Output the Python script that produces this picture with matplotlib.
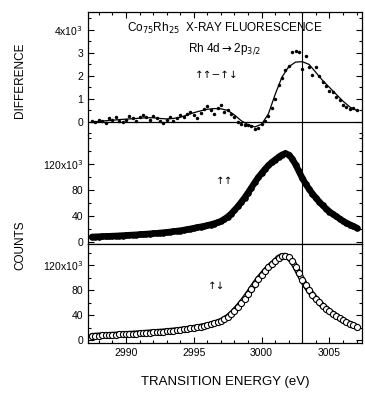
import numpy as np
import matplotlib
matplotlib.use("Agg")
import matplotlib.pyplot as plt
from matplotlib.ticker import MultipleLocator, FixedLocator, FixedFormatter

plt.rcParams['font.family'] = ['Liberation Sans', 'DejaVu Sans']

# ---- data ----
e_start, e_step = 2987.5, 0.25
counts_upup = [8.0, 8.2, 8.4, 8.6, 8.8, 9.0, 9.3, 9.5, 9.8, 10.1,
               10.4, 10.7, 11.0, 11.3, 11.7, 12.0, 12.4, 12.8, 13.2, 13.6,
               14.1, 14.6, 15.1, 15.7, 16.3, 17.0, 17.7, 18.5, 19.4, 20.4,
               21.5, 22.5, 23.5, 24.5, 25.7, 27.0, 28.5, 30.2, 32.2,
               35.3, 39.0, 43.5, 49.0, 55.0, 61.5, 68.5, 76.0,
               84.0, 92.0, 99.5, 106.0, 112.5, 118.0, 123.0, 127.0,
               131.0, 134.5, 136.5, 134.5,
               128.5, 119.5, 109.0, 98.5, 89.5, 81.5, 74.5, 68.0, 62.0, 56.5,
               51.5, 47.0, 43.0, 39.5, 36.0, 32.5, 29.5, 27.0, 24.5, 22.0]
counts_updown = [6.5, 6.8, 7.1, 7.4, 7.7, 8.0, 8.3, 8.6, 8.9, 9.2,
                 9.5, 9.8, 10.1, 10.4, 10.8, 11.2, 11.6, 12.0, 12.4, 12.8,
                 13.2, 13.6, 14.1, 14.6, 15.1, 15.7, 16.3, 17.0, 17.7, 18.5,
                 19.4, 20.3, 21.3, 22.4, 23.6, 25.0, 26.6, 28.4, 30.4,
                 33.4, 37.0, 41.5, 47.0, 53.0, 59.5, 66.5, 74.0,
                 82.0, 90.0, 97.5, 104.0, 110.5, 116.5, 121.5, 126.0,
                 132.0, 134.5, 135.0, 132.5,
                 126.5, 117.5, 107.0, 96.5, 87.5, 79.5, 72.5, 66.0, 60.5, 55.0,
                 50.5, 46.0, 42.0, 38.5, 35.0, 31.5, 28.5, 26.0, 23.5, 21.0]
diff_points = [0.05, 0.0, 0.1, 0.05, -0.05, 0.15, 0.1, 0.2, 0.05, 0.0,
               0.1, 0.25, 0.15, 0.05, 0.2, 0.3, 0.2, 0.1, 0.25, 0.15,
               0.05, -0.05, 0.1, 0.2, 0.05, 0.15, 0.3, 0.2, 0.35, 0.45,
               0.3, 0.15, 0.4, 0.55, 0.7, 0.5, 0.35, 0.6, 0.75, 0.45,
               0.5, 0.35, 0.2, 0.0, -0.1, -0.15,
               -0.15, -0.2, -0.3, -0.25, -0.1, 0.05, 0.25, 0.6, 1.0,
               1.6, 1.9, 2.25, 2.45, 3.05, 3.1, 3.05, 2.3, 2.85,
               2.4, 2.05, 2.4, 2.0, 1.75, 1.55, 1.35, 1.3, 1.1,
               0.95, 0.75, 0.65, 0.55, 0.6, 0.5]
fit_step = 0.5
diff_fit = [0.0, 0.02, 0.05, 0.07, 0.1,
            0.12, 0.14, 0.16, 0.18, 0.18, 0.15, 0.13, 0.15, 0.2, 0.3,
            0.4, 0.48, 0.55, 0.58, 0.57, 0.5,
            0.3, 0.05, -0.12, -0.22, -0.1, 0.35, 1.2, 1.95, 2.4, 2.6,
            2.62, 2.5, 2.15, 1.8, 1.5, 1.2, 0.9, 0.65, 0.5]
marker_energy = 3003.0

E = e_start + e_step * np.arange(len(counts_upup))
E2 = e_start + e_step * np.arange(len(counts_updown))
Ed = e_start + e_step * np.arange(len(diff_points))
Ef = e_start + fit_step * np.arange(len(diff_fit))

# ---- figure ----
W, H = 365, 393
fig = plt.figure(figsize=(W / 100, H / 100), dpi=100)
L, R = 88 / W, 362 / W
def band(top, bot):
    return [L, 1 - bot / H, R - L, (bot - top) / H]

ax1 = fig.add_axes(band(12, 135))
ax2 = fig.add_axes(band(135, 244))
ax3 = fig.add_axes(band(244, 343))

xlim = (2987.2, 3007.4)
fs = 7.5
for ax in (ax1, ax2, ax3):
    ax.set_xlim(*xlim)
    ax.xaxis.set_major_locator(MultipleLocator(5))
    ax.xaxis.set_minor_locator(MultipleLocator(1))
    ax.tick_params(which='both', direction='in', top=False, bottom=False,
                   left=True, right=True, labelsize=fs, width=0.8)
    ax.tick_params(which='major', length=4)
    ax.tick_params(which='minor', length=2)
    for s in ax.spines.values():
        s.set_linewidth(0.9)
    ax.axvline(marker_energy, color='k', lw=0.8)

# top panel
ax1.set_ylim(-0.57, 4.78)
ax1.spines['bottom'].set_visible(False)
ax1.tick_params(axis='x', which='both', top=True, labeltop=False, labelbottom=False)
ax1.yaxis.set_major_locator(FixedLocator([0, 1, 2, 3, 4]))
ax1.yaxis.set_major_formatter(FixedFormatter(['0', '1', '2', '3', '4x10$^3$']))
ax1.yaxis.set_minor_locator(MultipleLocator(0.5))
ax1.axhline(0, color='k', lw=0.9)
ax1.plot(Ef, diff_fit, color='k', lw=0.9)
ax1.plot(Ed, diff_points, 'o', color='k', ms=2.5, mew=0)
ax1.text(0.5, 0.87, 'Co$_{75}$Rh$_{25}$  X-RAY FLUORESCENCE', transform=ax1.transAxes,
         ha='center', va='center', fontsize=8.5)
ax1.text(0.5, 0.70, 'Rh 4d$\\rightarrow$2p$_{3/2}$', transform=ax1.transAxes,
         ha='center', va='center', fontsize=8.5)
ax1.text(0.47, 0.49, '↑↑−↑↓', transform=ax1.transAxes,
         ha='center', va='center', fontsize=7.5, family=['DejaVu Sans'])

# middle panel
ax2.set_ylim(-3, 165)
ax2.spines['top'].set_visible(False)
ax2.tick_params(axis='x', which='both', labelbottom=False)
ax2.yaxis.set_major_locator(FixedLocator([0, 40, 80, 120]))
ax2.yaxis.set_major_formatter(FixedFormatter(['0', '40', '80', '120x10$^3$']))
ax2.yaxis.set_minor_locator(MultipleLocator(20))
ax2.plot(E, counts_upup, '-', color='k', lw=4.6, solid_capstyle='round')
ax2.plot(E, counts_upup, 'o', color='k', ms=4.8, mew=0)
ax2.text(0.50, 0.58, '↑↑', transform=ax2.transAxes, ha='center', va='center',
         fontsize=7.5, family=['DejaVu Sans'])

# bottom panel
ax3.set_ylim(-4.8, 154)
ax3.tick_params(axis='x', which='both', bottom=True)
ax3.yaxis.set_major_locator(FixedLocator([0, 40, 80, 120]))
ax3.yaxis.set_major_formatter(FixedFormatter(['0', '40', '80', '120x10$^3$']))
ax3.yaxis.set_minor_locator(MultipleLocator(20))
ax3.plot(E2, counts_updown, '-', color='k', lw=4.4, solid_capstyle='round')
ax3.plot(E2, counts_updown, '-', color='white', lw=2.6, solid_capstyle='round')
ax3.plot(E2, counts_updown, 'o', mfc='white', mec='k', ms=4.4, mew=0.8)
ax3.text(0.47, 0.58, '↑↓', transform=ax3.transAxes, ha='center', va='center',
         fontsize=7.5, family=['DejaVu Sans'])
ax3.set_xlabel('TRANSITION ENERGY (eV)', fontsize=9.5, labelpad=13)

fig.text(20 / W, 1 - 80 / H, 'DIFFERENCE', rotation=90, ha='center', va='center', fontsize=8.5)
fig.text(20 / W, 1 - 245 / H, 'COUNTS', rotation=90, ha='center', va='center', fontsize=8.5)

fig.savefig('out.png', dpi=100)
